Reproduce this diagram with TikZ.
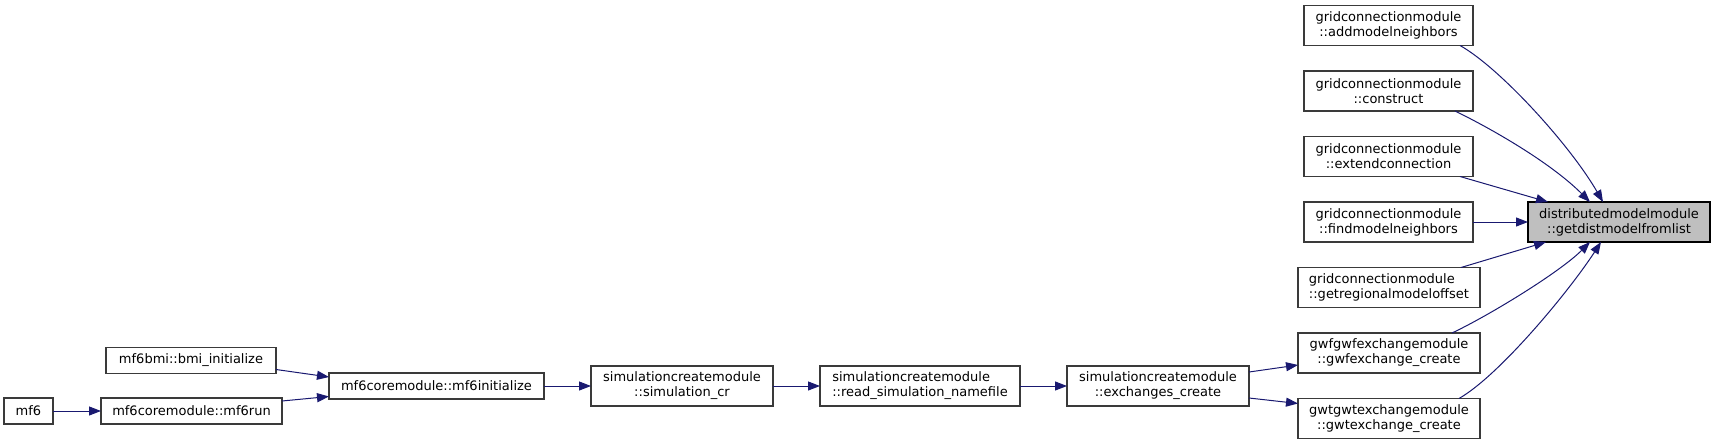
\documentclass[tikz,border=0pt]{standalone}
\usepackage{fontspec}
\setmainfont{DejaVu Sans}
\usetikzlibrary{arrows.meta,calc}
\definecolor{edgeblue}{HTML}{191970}
\definecolor{boxline}{HTML}{3A3A3A}
\definecolor{tgtfill}{HTML}{BFBFBF}
\begin{document}
\begin{tikzpicture}[x=1pt,y=-1pt,
  every node/.style={font=\fontsize{13}{15}\selectfont},
  fn/.style={draw=boxline,line width=1.3pt,fill=white,inner sep=0pt,outer sep=0pt,align=center,minimum height=40pt},
  fnone/.style={fn,minimum height=26pt},
  fntgt/.style={fn,draw=black,fill=tgtfill},
  call/.style={draw=edgeblue,line width=1pt,-{Triangle[length=12pt,width=9pt]},color=edgeblue}]
\useasboundingbox (0,0) rectangle (1716,444);
% nodes
\node[fnone,minimum width=49pt] (mf6) at (28.5,411) {mf6};
\node[fnone,minimum width=181pt] (run) at (191.5,411) {mf6coremodule::mf6run};
\node[fnone,minimum width=170pt] (bmi) at (191,360.5) {mf6bmi::bmi\_initialize};
\node[fnone,minimum width=215pt] (init) at (436.5,386) {mf6coremodule::mf6initialize};
\node[fn,minimum width=182pt] (simcr) at (682,386) {simulationcreatemodule\\::simulation\_cr};
\node[fn,minimum width=200pt,align=left] (readsim) at (920,386) {simulationcreatemodule\\::read\_simulation\_namefile};
\node[fn,minimum width=182pt] (exch) at (1158,386) {simulationcreatemodule\\::exchanges\_create};
\node[fn,minimum width=169pt] (add) at (1388.5,25.5) {gridconnectionmodule\\::addmodelneighbors};
\node[fn,minimum width=169pt] (cons) at (1388.5,91) {gridconnectionmodule\\::construct};
\node[fn,minimum width=169pt] (ext) at (1388.5,156.5) {gridconnectionmodule\\::extendconnection};
\node[fn,minimum width=169pt] (find) at (1388.5,222) {gridconnectionmodule\\::findmodelneighbors};
\node[fn,minimum width=182pt,align=left] (getreg) at (1389,287.5) {gridconnectionmodule\\::getregionalmodeloffset};
\node[fn,minimum width=182pt] (gwf) at (1389,353) {gwfgwfexchangemodule\\::gwfexchange\_create};
\node[fn,minimum width=182pt] (gwt) at (1389,418.5) {gwtgwtexchangemodule\\::gwtexchange\_create};
\node[fntgt,minimum width=182pt] (tgt) at (1619,222) {distributedmodelmodule\\::getdistmodelfromlist};
% edges
\draw[call] (mf6) -- (run);
\draw[call] ($(bmi.south east)+(0,-4)$) -- ($(init.north west)+(0,4)$);
\draw[call] ($(run.north east)+(0,3)$) -- ($(init.south west)+(0,-2.5)$);
\draw[call] (init) -- (simcr);
\draw[call] (simcr) -- (readsim);
\draw[call] (readsim) -- (exch);
\draw[call] ($(exch.north east)+(0,6)$) -- ($(gwf.south west)+(0,-8)$);
\draw[call] ($(exch.south east)+(0,-8)$) -- ($(gwt.north west)+(0,5)$);
\draw[call] ($(add.south east)+(-13,0)$) .. controls (1500,68) and (1570,145) .. ($(tgt.north west)+(75,0)$);
\draw[call] ($(cons.south east)+(-18,0)$) .. controls (1490,128) and (1550,162) .. ($(tgt.north west)+(62,0)$);
\draw[call] ($(ext.south east)+(-13,0)$) -- ($(tgt.north west)+(20,0)$);
\draw[call] (find) -- (tgt);
\draw[call] ($(getreg.north east)+(-19,0)$) -- ($(tgt.south west)+(18,0)$);
\draw[call] ($(gwf.north east)+(-28,0)$) .. controls (1490,315) and (1560,272) .. ($(tgt.south west)+(62,0)$);
\draw[call] ($(gwt.north east)+(-21,0)$) .. controls (1500,375) and (1570,290) .. ($(tgt.south west)+(73,0)$);
\end{tikzpicture}
\end{document}
